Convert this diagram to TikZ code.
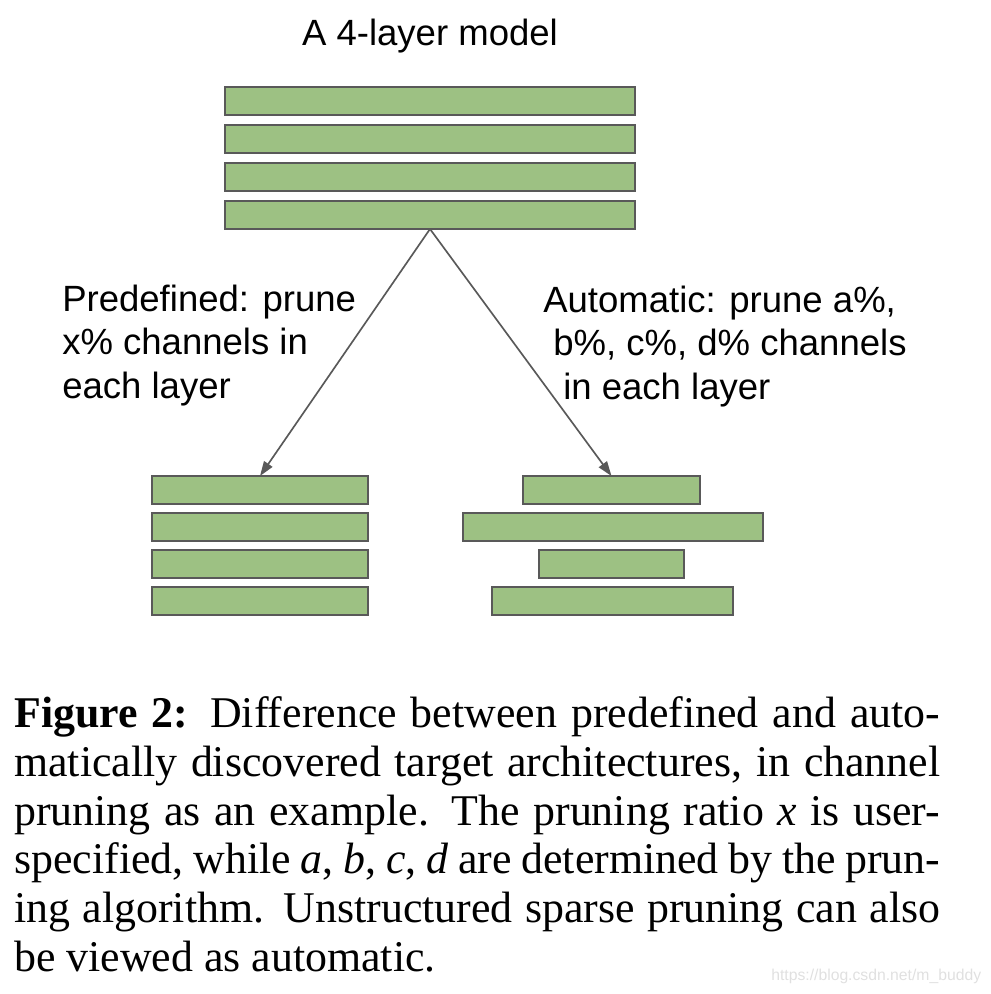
\documentclass[tikz,border=0pt]{standalone}
\usepackage{fontspec}
\setmainfont{Liberation Serif}
\setsansfont{Liberation Sans}
\usetikzlibrary{positioning,arrows.meta}
\definecolor{layergreen}{HTML}{9DC183}
\definecolor{edgegray}{HTML}{595959}
\tikzset{
  layer/.style={draw=edgegray, fill=layergreen, line width=1.6pt,
    minimum width=#1*0.75pt, minimum height=21pt, inner sep=0pt, outer sep=0pt},
  lbl/.style={font=\sffamily\fontsize{27.4}{32.6}\selectfont, inner sep=0pt, align=left},
}
\newcommand{\capline}[1]{\makebox[694.5pt][s]{#1}}

\begin{document}
\begin{tikzpicture}[x=0.75pt,y=-0.75pt,>={Triangle[length=11pt,width=7.5pt]}]
\useasboundingbox (0,0) rectangle (990,994);
\node[lbl, anchor=base] (title) at (430,46) {A 4-layer model};
% original model
\foreach \i/\y in {1/101,2/139,3/177,4/215}
  \node[layer=410] (t\i) at (430,\y) {};
% predefined pruning
\foreach \i/\y in {1/490,2/527,3/564,4/601}
  \node[layer=216] (l\i) at (260,\y) {};
% automatic pruning
\node[layer=177] (r1) at (611.5,490) {};
\node[layer=300] (r2) at (613,527) {};
\node[layer=145] (r3) at (611.5,564) {};
\node[layer=241] (r4) at (612.5,601) {};
\draw[->, edgegray, line width=1.25pt] (t4.south) -- (l1.north);
\draw[->, edgegray, line width=1.25pt] (t4.south) -- (r1.north);
% labels (base = last line)
\node[lbl, anchor=base west] (predef) at (62,398)
  {Predefined: prune\\x\% channels in\\each layer};
\node[lbl, anchor=base west] (auto) at (543,399)
  {Automatic: prune a\%,\\\hspace*{7.5pt}b\%, c\%, d\% channels\\\hspace*{15pt}in each layer};
% caption
\node[anchor=base west, align=left, inner sep=0pt,
  font=\fontsize{32.9}{36.5}\selectfont] (caption) at (14,971)
  {\capline{\textbf{Figure 2:}\enspace Difference between predefined and auto-}\\
   \capline{matically discovered target architectures, in channel}\\
   \capline{pruning as an example. The pruning ratio \textit{x} is user-}\\
   \capline{specified, while \textit{a}, \textit{b}, \textit{c}, \textit{d} are determined by the prun-}\\
   \capline{ing algorithm. Unstructured sparse pruning can also}\\
   be viewed as automatic.};
\node[anchor=base west, inner sep=0pt, text=black!12,
  font=\sffamily\fontsize{11.8}{14}\selectfont] (mark) at (771,980)
  {https://blog.csdn.net/m\_buddy};
\end{tikzpicture}
\end{document}
